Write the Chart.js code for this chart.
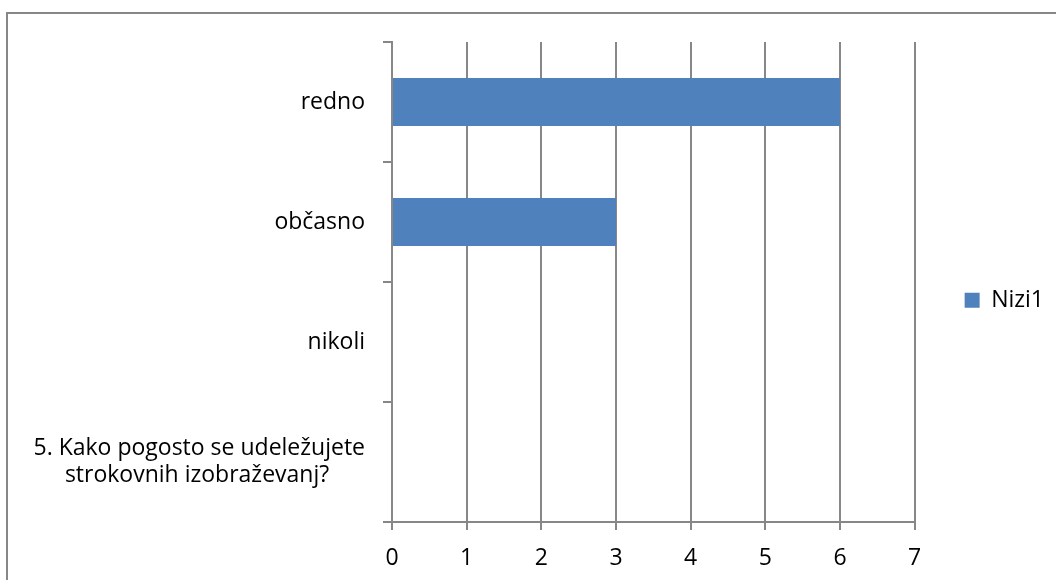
<!DOCTYPE html>
<html>
<head>
<meta charset="utf-8">
<script src="https://cdn.jsdelivr.net/npm/chart.js@4/dist/chart.umd.min.js"></script>
<style>
  html, body { margin: 0; padding: 0; background: #fff; overflow: hidden; }
  #frame { position: absolute; left: 6px; top: 12px; width: 1200px; height: 700px; border: 2px solid #878787; }
  #c { position: absolute; left: 0; top: 0; }
</style>
</head>
<body>
<div id="frame"></div>
<canvas id="c" width="1056" height="580"></canvas>
<script>
// categories, top to bottom
var categories = [
    "redno",
    "občasno",
    "nikoli",
    ["5. Kako pogosto se udeležujete", "strokovnih izobraževanj?      "]
];
var seriesName = "Nizi1";
var seriesValues = [6, 3, 0, 0];
var xTicks = [0, 1, 2, 3, 4, 5, 6, 7];

var gridColor = "#878787";
var font = { family: "Open Sans", size: 23 };

new Chart(document.getElementById("c").getContext("2d"), {
    type: "bar",
    data: {
        labels: categories,
        datasets: [{
            label: seriesName,
            data: seriesValues,
            backgroundColor: "#4f81bd",
            borderWidth: 0,
            barPercentage: 0.4,
            categoryPercentage: 1.0
        }]
    },
    options: {
        indexAxis: "y",
        responsive: false,
        animation: false,
        layout: { padding: { top: 42, bottom: 0, left: 0, right: 2 } },
        plugins: {
            tooltip: { enabled: false },
            legend: {
                position: "right",
                fullSize: false,
                // blank title only pushes the single entry down a little
                title: { display: true, text: " ", font: { size: 12 }, padding: { top: 10, bottom: 12 } },
                labels: {
                    boxWidth: 15,
                    boxHeight: 15,
                    padding: 50,
                    color: "#000",
                    font: font
                }
            }
        },
        scales: {
            x: {
                min: xTicks[0],
                max: xTicks[xTicks.length - 1],
                afterBuildTicks: function(s) {
                    s.ticks = xTicks.map(function(v) { return { value: v }; });
                },
                afterFit: function(s) {
                    s.height = 58;
                    s.paddingLeft = 0;
                    s.paddingRight = 0;
                },
                grid: { color: gridColor, lineWidth: 2, tickLength: 8 },
                border: { color: gridColor, width: 2 },
                ticks: { color: "#000", font: font, padding: 15, maxRotation: 0 }
            },
            y: {
                afterFit: function(s) {
                    s.width = 392;
                    s.paddingTop = 0;
                    s.paddingBottom = 0;
                },
                grid: { color: gridColor, lineWidth: 2, tickLength: 9, drawOnChartArea: false, offset: true },
                border: { color: gridColor, width: 2 },
                ticks: { color: "#000", font: { family: "Open Sans", size: 23, lineHeight: 1.2 }, padding: 18 }
            }
        }
    }
});
</script>
</body>
</html>
